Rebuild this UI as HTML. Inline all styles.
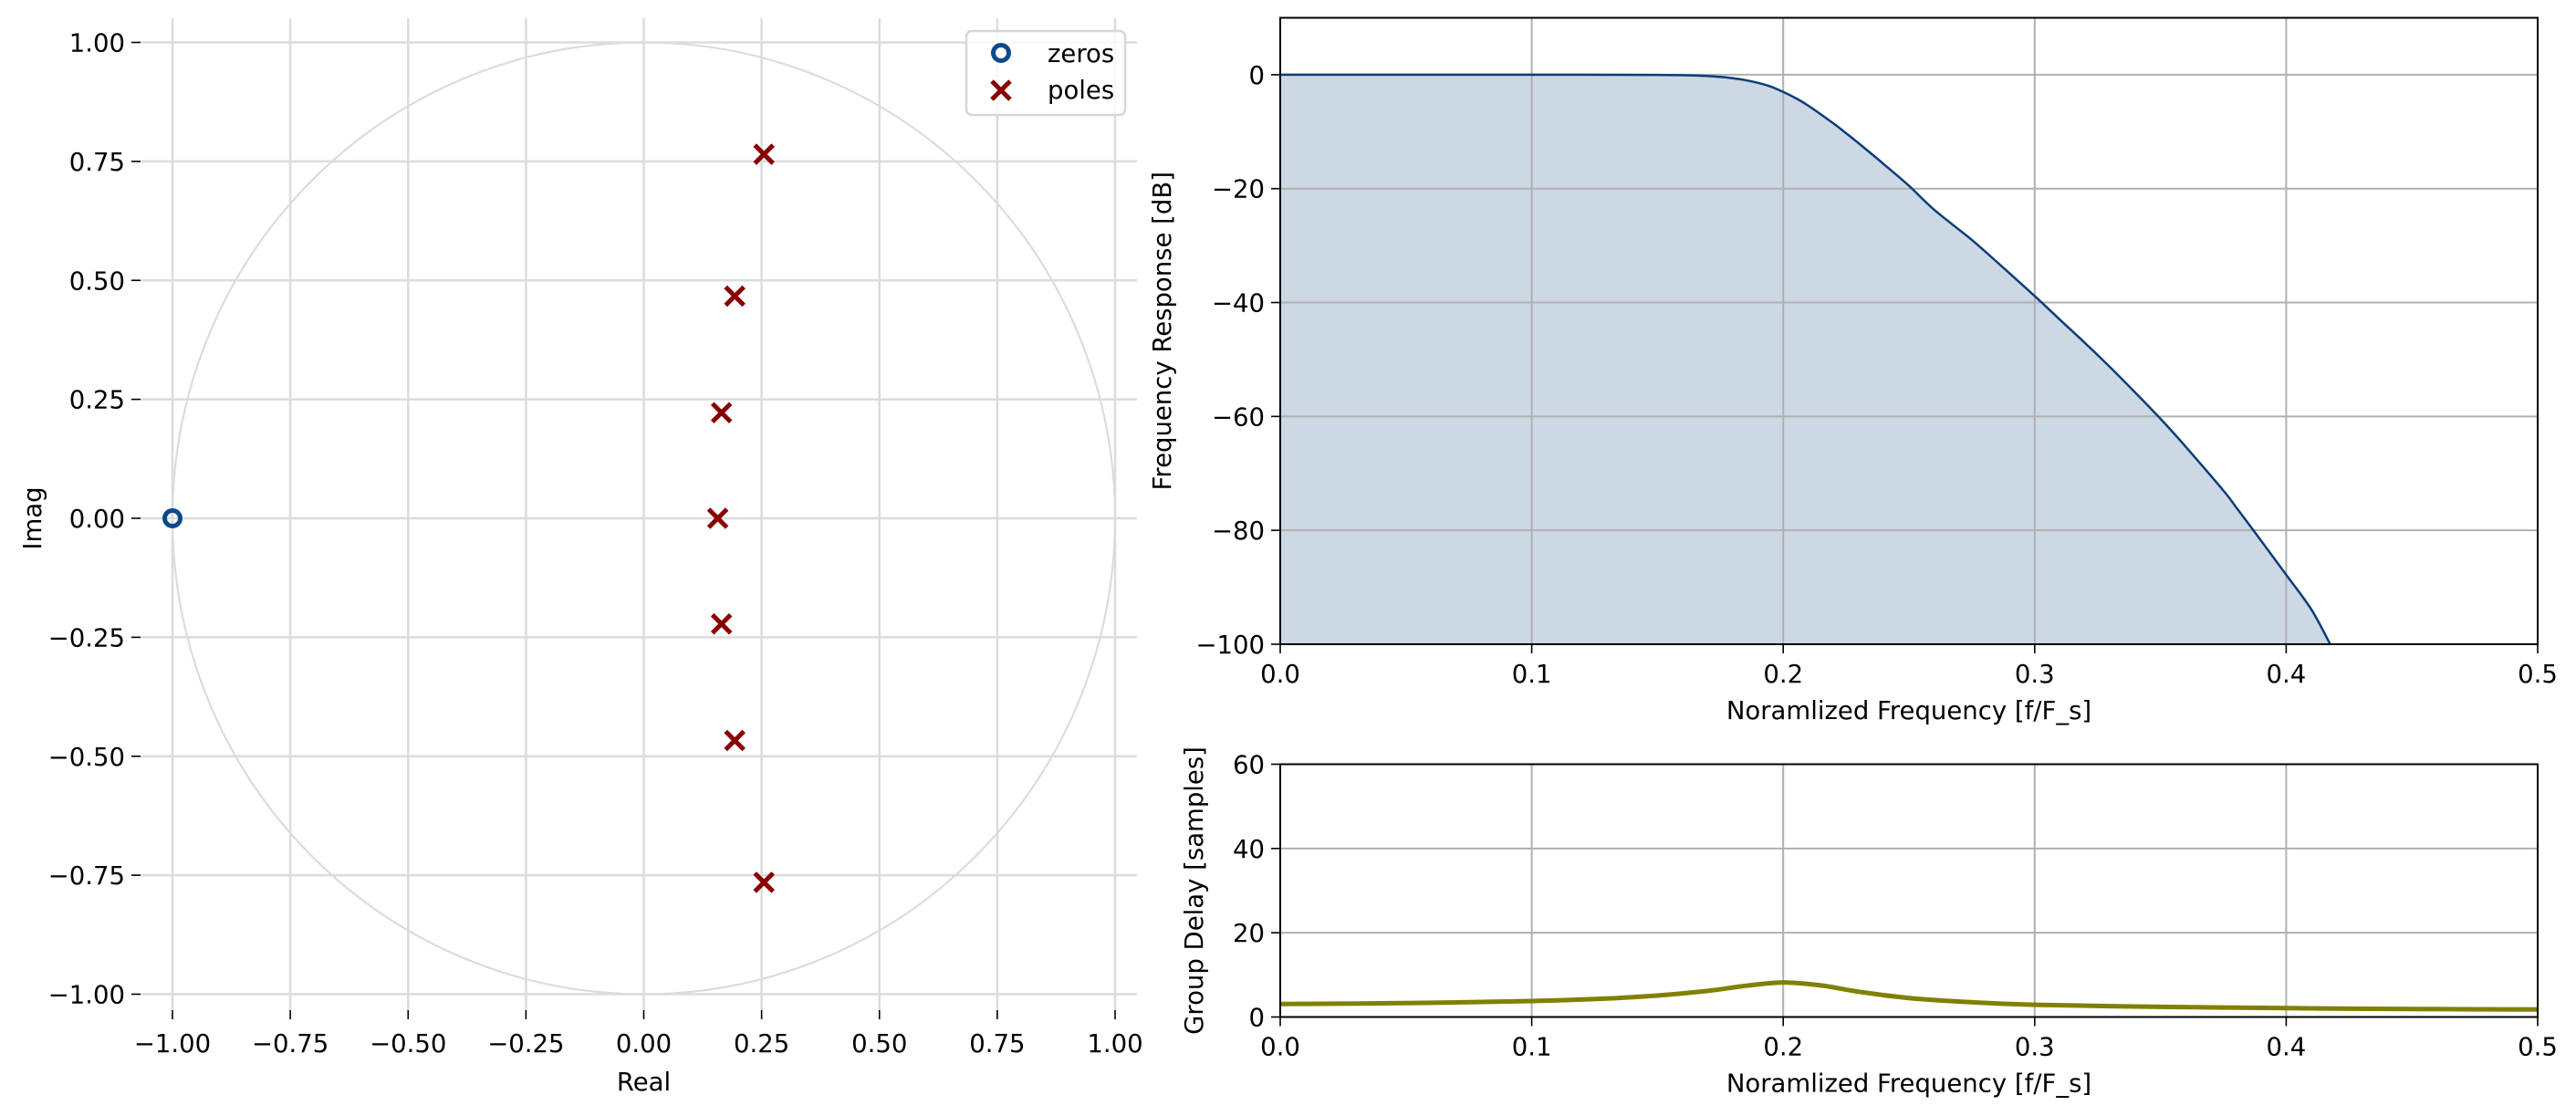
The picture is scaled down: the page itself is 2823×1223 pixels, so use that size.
<!DOCTYPE html>
<html><head><meta charset="utf-8"><style>
html,body{margin:0;padding:0;background:#fff}
svg{display:block;font-family:"DejaVu Sans","Liberation Sans",sans-serif}
</style></head><body>
<svg id="fig" width="2823" height="1223" viewBox="0 0 2823 1223" xmlns="http://www.w3.org/2000/svg">
<g id="pz"></g>
<g id="fr"></g>
<g id="gd"></g>
</svg>
<script>
// Pole-zero data
const zerosRe = [-1.0];
const zerosIm = [0.0];
const polesRe = [0.255, 0.193, 0.165, 0.157, 0.165, 0.193, 0.255];
const polesIm = [0.765, 0.467, 0.222, 0.0, -0.222, -0.467, -0.765];
const pzTicks = [-1.0, -0.75, -0.5, -0.25, 0.0, 0.25, 0.5, 0.75, 1.0];
const pzTickLabels = ["\u22121.00","\u22120.75","\u22120.50","\u22120.25","0.00","0.25","0.50","0.75","1.00"];
// Frequency response data (dB)
const frFreq = [0, 0.05, 0.1, 0.15, 0.165, 0.175, 0.18, 0.185, 0.19, 0.195, 0.2, 0.205, 0.21, 0.22, 0.225, 0.23, 0.24, 0.25, 0.26, 0.275, 0.285, 0.3, 0.31, 0.325, 0.34, 0.35, 0.36, 0.375, 0.38, 0.39, 0.4, 0.41, 0.4175];
const frMag  = [0, 0, 0, -0.03, -0.14, -0.38, -0.61, -0.95, -1.42, -2.07, -3.01, -4.12, -5.44, -8.56, -10.27, -12.04, -15.7, -19.5, -23.7, -29.0, -32.9, -38.85, -43.0, -49.2, -55.8, -60.4, -65.3, -73.0, -75.9, -81.8, -87.8, -93.9, -100];
const frXTicks = [0, 0.1, 0.2, 0.3, 0.4, 0.5];
const frXLabels = ["0.0","0.1","0.2","0.3","0.4","0.5"];
const frYTicks = [0, -20, -40, -60, -80, -100];
const frYLabels = ["0","\u221220","\u221240","\u221260","\u221280","\u2212100"];
// Group delay data (samples)
const gdFreq = [0, 0.05, 0.1, 0.13, 0.15, 0.17, 0.185, 0.2, 0.215, 0.23, 0.25, 0.275, 0.3, 0.35, 0.4, 0.45, 0.5];
const gdVal  = [3.1, 3.3, 3.8, 4.4, 5.1, 6.2, 7.4, 8.2, 7.5, 6.0, 4.5, 3.5, 2.9, 2.4, 2.1, 1.9, 1.8];
const gdYTicks = [0, 20, 40, 60];
const gdYLabels = ["0","20","40","60"];

const NS='http://www.w3.org/2000/svg';
function mk(parent, tag, attrs, txt){const e=document.createElementNS(NS,tag);for(const k in attrs)e.setAttribute(k,attrs[k]);if(txt!==undefined)e.textContent=txt;parent.appendChild(e);return e;}
function smooth(pts){let d='M'+pts[0][0].toFixed(1)+','+pts[0][1].toFixed(1);for(let i=0;i<pts.length-1;i++){const p0=pts[i-1]||pts[i],p1=pts[i],p2=pts[i+1],p3=pts[i+2]||p2;const c1=[p1[0]+(p2[0]-p0[0])/6,p1[1]+(p2[1]-p0[1])/6],c2=[p2[0]-(p3[0]-p1[0])/6,p2[1]-(p3[1]-p1[1])/6];d+=' C'+c1[0].toFixed(1)+','+c1[1].toFixed(1)+' '+c2[0].toFixed(1)+','+c2[1].toFixed(1)+' '+p2[0].toFixed(1)+','+p2[1].toFixed(1);}return d;}

// ---------- Pole-zero ----------
const pz=document.getElementById('pz');
const px=v=>705.5+v*516.5, py=v=>568-v*521.5;
const pzL=154, pzR=1246, pzT=20, pzB=1107;
pzTicks.forEach((t,i)=>{
  let g=mk(pz,'line',{x1:px(t),x2:px(t),y1:pzT,y2:pzB,stroke:'#dcdcdc','stroke-width':2.5});
  
  
  g=mk(pz,'line',{x1:pzL,x2:pzR,y1:py(t),y2:py(t),stroke:'#dcdcdc','stroke-width':2.5});
  
  
  let tk=mk(pz,'line',{x1:px(t),x2:px(t),y1:pzB,y2:pzB+10,stroke:'#000','stroke-width':1.6});
  
  
  tk=mk(pz,'line',{x1:pzL-10,x2:pzL,y1:py(t),y2:py(t),stroke:'#000','stroke-width':1.6});
  
  
  let lb=mk(pz,'text',{x:px(t),y:pzB+46,'font-size':27.5,'text-anchor':'middle'},pzTickLabels[i]);
  
  
  lb=mk(pz,'text',{x:pzL-17,y:py(t)+10,'font-size':27.5,'text-anchor':'end'},pzTickLabels[i]);
  
  
});
let uc=mk(pz,'ellipse',{cx:px(0),cy:py(0),rx:px(1)-px(0),ry:py(0)-py(1),fill:'none',stroke:'#dcdcdc','stroke-width':2.2});


zerosRe.forEach((r,i)=>{
  const c=mk(pz,'circle',{cx:px(r),cy:py(zerosIm[i]),r:8.5,fill:'none',stroke:'#0a4a8a','stroke-width':5});
  
  
});
polesRe.forEach((r,i)=>{
  const x=px(r),y=py(polesIm[i]),s=10;
  const p=mk(pz,'path',{d:`M${x-s},${y-s}L${x+s},${y+s}M${x-s},${y+s}L${x+s},${y-s}`,stroke:'#880000','stroke-width':5});
  
  
});
let t=mk(pz,'text',{x:px(0),y:1195,'font-size':27.5,'text-anchor':'middle'},'Real');


t=mk(pz,'text',{x:0,y:0,'font-size':27.5,'text-anchor':'middle',transform:`translate(45,${py(0)}) rotate(-90)`},'Imag');


// legend
const lg=mk(pz,'g',{});


mk(lg,'rect',{x:1059,y:34,width:174,height:92,rx:6,fill:'rgba(255,255,255,0.8)',stroke:'#d6d6d6','stroke-width':2.5});
mk(lg,'circle',{cx:1097,cy:58,r:8.5,fill:'none',stroke:'#0a4a8a','stroke-width':5});
mk(lg,'path',{d:'M1087,89L1107,109M1087,109L1107,89',stroke:'#880000','stroke-width':5});
t=mk(lg,'text',{x:1148,y:68,'font-size':27.5},'zeros');


t=mk(lg,'text',{x:1148,y:108,'font-size':27.5},'poles');



// ---------- Frequency response ----------
const fx=v=>1403+v*2*(2781-1403);
function axes(g,top,bot,yf,yTicks,yLabels,ylabel,ylx){
  frXTicks.forEach((v,i)=>{
    let l=mk(g,'line',{x1:fx(v),x2:fx(v),y1:top,y2:bot,stroke:'#b0b0b0','stroke-width':2});
    
    
    l=mk(g,'line',{x1:fx(v),x2:fx(v),y1:bot,y2:bot+10,stroke:'#000','stroke-width':1.6});
    
    
    const tx=mk(g,'text',{x:fx(v),y:bot+42,'font-size':27.5,'text-anchor':'middle'},frXLabels[i]);
    
    
  });
  yTicks.forEach((v,i)=>{
    let l=mk(g,'line',{x1:1403,x2:2781,y1:yf(v),y2:yf(v),stroke:'#b0b0b0','stroke-width':2});
    
    
    l=mk(g,'line',{x1:1393,x2:1403,y1:yf(v),y2:yf(v),stroke:'#000','stroke-width':1.6});
    
    
    const tx=mk(g,'text',{x:1386,y:yf(v)+10,'font-size':27.5,'text-anchor':'end'},yLabels[i]);
    
    
  });
  let tx=mk(g,'text',{x:fx(0.25),y:bot+82,'font-size':27.5,'text-anchor':'middle'},'Noramlized Frequency [f/F_s]');
  
  
  tx=mk(g,'text',{x:0,y:0,'font-size':27.5,'text-anchor':'middle',transform:`translate(${ylx},${(top+bot)/2}) rotate(-90)`},ylabel);
  
  
}
const fr=document.getElementById('fr');
const fyT=19.5, fyB=706, fy=v=>fyT+(10-v)*(fyB-fyT)/110;
const frPts=frFreq.map((f,i)=>[fx(f),fy(frMag[i])]);
const frPath=smooth(frPts);
let area=mk(fr,'path',{d:frPath+` L${fx(frFreq[frFreq.length-1])},${fyB} L${fx(0)},${fyB} Z`,fill:'#cdd8e5'});


axes(fr,fyT,fyB,fy,frYTicks,frYLabels,'Frequency Response [dB]',1283);
let ln=mk(fr,'path',{d:frPath,fill:'none',stroke:'#0a3d7a','stroke-width':2.5});


let fb=mk(fr,'rect',{x:1403,y:fyT,width:2781-1403,height:fyB-fyT,fill:'none',stroke:'#000','stroke-width':2});



// ---------- Group delay ----------
const gd=document.getElementById('gd');
const gyT=837.5, gyB=1114.5, gy=v=>gyB-v*(gyB-gyT)/60;
axes(gd,gyT,gyB,gy,gdYTicks,gdYLabels,'Group Delay [samples]',1318);
ln=mk(gd,'path',{d:smooth(gdFreq.map((f,i)=>[fx(f),gy(gdVal[i])])),fill:'none',stroke:'#808000','stroke-width':5});


fb=mk(gd,'rect',{x:1403,y:gyT,width:2781-1403,height:gyB-gyT,fill:'none',stroke:'#000','stroke-width':2});


</script>
</body></html>
